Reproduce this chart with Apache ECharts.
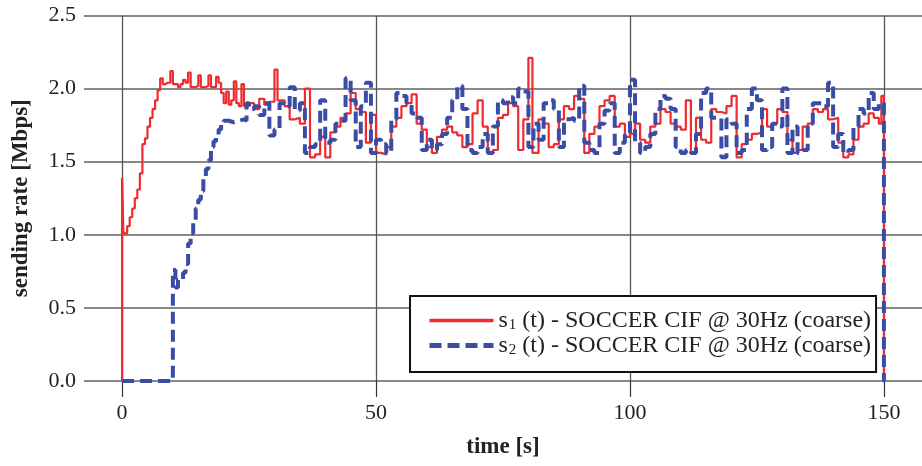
<!DOCTYPE html>
<html>
<head>
<meta charset="utf-8">
<script src="https://cdn.jsdelivr.net/npm/echarts@6/dist/echarts.min.js"></script>
<style>html,body{margin:0;padding:0;background:#fff}#c{width:922px;height:466px}</style>
</head>
<body>
<div id="c"></div>
<script>
const xTicks = [0, 50, 100, 150];
const yTicks = [0, 0.5, 1.0, 1.5, 2.0, 2.5];

const s1Time = [0, 0, 0.25, 1, 1.5, 2, 2.5, 3, 3.5, 4, 4.5, 5, 5.5, 6, 6.5, 7, 7.5, 8, 8.5, 9, 9.5, 10, 11, 11.5, 12, 12.5, 13, 13.5, 14.5, 15, 15.5, 16.5, 17, 17.5, 18.5, 19, 19.5, 20, 20.5, 21, 21.5, 22, 22.5, 23, 23.5, 24,
  25, 26, 27, 28, 29, 30, 30.6, 31, 32, 33, 34, 35, 36, 37, 38, 39, 40, 41, 42, 43, 44, 45, 46, 47, 48, 49, 50,
  51, 52, 53, 54, 55, 56, 57, 58, 59, 60, 61, 62, 63, 64, 65, 66, 67, 68, 69, 70, 71, 72, 73, 74, 75,
  76, 77, 78, 79, 80, 80.8, 81, 82, 83, 84, 85, 86, 87, 88, 89, 90, 91, 92, 93, 94, 95, 96, 97, 98, 99, 100,
  101, 102, 103, 104, 105, 106, 107, 108, 109, 110, 111, 112, 113, 114, 115, 116, 117, 118, 119, 120, 121, 122, 123, 124, 125,
  126, 127, 128, 129, 130, 131, 132, 133, 134, 135, 136, 137, 138, 139, 140, 141, 142, 143, 144, 145, 146, 147, 148, 149, 149.5, 150, 150.2];
const s1Rate = [0, 1.39, 1.01, 1.06, 1.12, 1.18, 1.25, 1.31, 1.42, 1.62, 1.66, 1.74, 1.80, 1.86, 1.92, 1.99, 2.07, 2.03, 2.04, 2.04, 2.12, 2.03, 2.01, 2.03, 2.06, 2.04, 2.11, 2.01, 2.02, 2.09, 2.01, 2.02, 2.09, 2.01, 2.08, 2.04, 1.97, 1.90, 1.98, 1.89, 1.92, 2.05, 1.90, 1.88, 2.03, 1.88,
  1.90, 1.86, 1.93, 1.89, 1.91, 2.13, 1.92, 1.92, 1.88, 1.79, 1.80, 1.76, 2.00, 1.53, 1.55, 1.67, 1.53, 1.70, 1.74, 1.80, 1.83, 1.97, 1.86, 1.84, 1.63, 1.82, 1.56,
  1.55, 1.60, 1.74, 1.80, 1.88, 1.90, 1.96, 1.76, 1.72, 1.60, 1.56, 1.67, 1.72, 1.74, 1.70, 1.68, 1.60, 1.62, 1.83, 1.92, 1.74, 1.56, 1.58, 1.80, 1.82,
  1.90, 1.88, 1.58, 1.79, 2.21, 1.56, 1.56, 1.79, 1.76, 1.60, 1.62, 1.79, 1.88, 1.86, 1.95, 1.93, 1.56, 1.69, 1.74, 1.88, 1.92, 1.95, 1.74, 1.76, 1.67, 1.69,
  1.76, 1.65, 1.63, 1.74, 1.76, 1.86, 1.84, 1.76, 1.74, 1.72, 1.92, 1.56, 1.80, 1.65, 1.63, 1.86, 1.84, 1.83, 1.88, 1.95, 1.53, 1.62, 1.65, 1.69, 1.70,
  1.86, 1.74, 1.76, 1.86, 1.84, 1.65, 1.56, 1.58, 1.74, 1.76, 1.86, 1.84, 1.86, 1.79, 1.80, 1.63, 1.53, 1.55, 1.65, 1.74, 1.76, 1.83, 1.80, 1.76, 1.95, 0, 0];

const s2Time = [0, 10, 10.5, 11, 12, 12.5, 13, 13.5, 14, 14.5, 15, 15.5, 16, 16.5, 17, 17.5, 18, 18.5, 19, 19.5, 20, 21, 22, 23, 24, 24.5,
  25, 26, 27, 28, 29, 30, 31, 32, 33, 34, 35, 36, 37, 38, 39, 40, 41, 42, 43, 44, 45, 46, 47, 48, 49, 50,
  51, 52, 53, 54, 55, 56, 57, 58, 59, 60, 61, 62, 63, 64, 65, 66, 67, 68, 69, 70, 71, 72, 73, 74, 75,
  76, 77, 78, 79, 80, 81, 82, 83, 84, 85, 86, 87, 88, 89, 90, 91, 92, 93, 94, 95, 96, 97, 98, 99, 100,
  101, 102, 103, 104, 105, 106, 107, 108, 109, 110, 111, 112, 113, 114, 115, 116, 117, 118, 119, 120, 121, 122, 123, 124, 125,
  126, 127, 128, 129, 130, 131, 132, 133, 134, 135, 136, 137, 138, 139, 140, 141, 142, 143, 144, 145, 146, 147, 148, 149, 150, 150.2];
const s2Rate = [0, 0.76, 0.64, 0.69, 0.74, 0.80, 0.94, 1.01, 1.10, 1.18, 1.24, 1.30, 1.39, 1.45, 1.51, 1.60, 1.64, 1.68, 1.72, 1.76, 1.78, 1.77, 1.78, 1.79, 1.78, 1.90,
  1.86, 1.88, 1.82, 1.90, 1.68, 1.72, 1.90, 1.88, 2.01, 1.85, 1.90, 1.56, 1.60, 1.62, 1.92, 1.63, 1.65, 1.76, 1.78, 2.07, 1.92, 1.60, 1.88, 2.04, 1.56, 1.65,
  1.62, 1.56, 1.79, 1.97, 1.95, 1.90, 1.83, 1.80, 1.58, 1.65, 1.58, 1.62, 1.69, 1.80, 1.92, 2.02, 1.86, 1.58, 1.56, 1.60, 1.69, 1.56, 1.74, 1.92, 1.90,
  1.94, 1.90, 2.00, 1.98, 1.60, 1.76, 1.65, 1.90, 1.92, 1.86, 1.60, 1.79, 1.80, 1.78, 2.02, 1.63, 1.58, 1.56, 1.76, 1.85, 1.90, 1.56, 1.63, 1.69, 2.06,
  1.63, 1.56, 1.60, 1.69, 1.86, 1.95, 1.93, 1.86, 1.60, 1.56, 1.58, 1.56, 1.69, 1.97, 2.00, 1.80, 1.80, 1.53, 1.79, 1.76, 1.56, 1.58, 1.86, 2.00, 1.92,
  1.58, 1.60, 1.76, 1.74, 2.00, 1.56, 1.74, 1.56, 1.58, 1.76, 1.90, 1.90, 1.88, 2.04, 1.60, 1.69, 1.56, 1.58, 1.74, 1.86, 1.83, 1.97, 1.86, 1.90, 0, 0];

const s1Name = 's1';
const s2Name = 's2';
const legendText = {
  s1: '{a|s}{b|1}{a| (t) - SOCCER CIF @ 30Hz (coarse)}',
  s2: '{a|s}{b|2}{a| (t) - SOCCER CIF @ 30Hz (coarse)}'
};

const pairs = (t, v) => t.map((x, i) => [x, v[i]]);
const serif = '"Liberation Serif", "DejaVu Serif", serif';

const chart = echarts.init(document.getElementById('c'), null, {renderer: 'canvas'});
chart.setOption({
  animation: false,
  backgroundColor: '#fff',
  grid: {left: 84, right: 0, top: 15.5, bottom: 85, containLabel: false, outerBoundsMode: 'none'},
  xAxis: {
    type: 'value', min: -7.5, max: 157.5,
    name: 'time [s]', nameLocation: 'middle', nameGap: 55,
    nameTextStyle: {fontFamily: serif, fontWeight: 'bold', fontSize: 23, color: '#222'},
    axisLine: {show: false},
    axisTick: {show: true, customValues: xTicks, length: 16, inside: false, lineStyle: {color: '#333', width: 1.2}},
    axisLabel: {customValues: xTicks, fontFamily: serif, fontSize: 22, color: '#222', margin: 21},
    splitLine: {show: true, lineStyle: {color: '#555', width: 1.3}}
  },
  yAxis: {
    type: 'value', min: 0, max: 2.5, interval: 0.5,
    name: 'sending rate [Mbps]', nameLocation: 'middle', nameGap: 51, nameRotate: 90,
    nameTextStyle: {fontFamily: serif, fontWeight: 'bold', fontSize: 23, color: '#222'},
    axisLine: {show: false},
    axisTick: {show: false},
    axisLabel: {fontFamily: serif, fontSize: 22, color: '#222', margin: 8, formatter: v => v.toFixed(1)},
    splitLine: {show: true, lineStyle: {color: '#888', width: 1.8}}
  },
  legend: {
    show: true,
    orient: 'vertical', left: 410, top: 296,
    padding: [12, 5, 14, 17],
    itemWidth: 64, itemHeight: 14, itemGap: 0,
    backgroundColor: '#fff', borderColor: '#111', borderWidth: 2, borderRadius: 0,
    itemStyle: {opacity: 0},
    formatter: function (n) { return legendText[n]; },
    textStyle: {
      fontFamily: serif, fontSize: 24, color: '#222',
      rich: {
        a: {fontFamily: serif, fontSize: 24, color: '#222', lineHeight: 28},
        b: {fontFamily: serif, fontSize: 15, color: '#222', lineHeight: 28, padding: [10, 0, 0, 1]}
      }
    },
    data: [
      {name: s1Name, lineStyle: {width: 3.5}},
      {name: s2Name, lineStyle: {width: 5}}
    ]
  },
  series: [
    {
      name: s1Name, type: 'line', step: 'end', symbol: 'none', z: 3,
      data: pairs(s1Time, s1Rate),
      lineStyle: {color: '#ee2b2e', width: 2.2},
      itemStyle: {color: '#ee2b2e'}
    },
    {
      name: s2Name, type: 'line', step: 'end', symbol: 'none', z: 4,
      data: pairs(s2Time, s2Rate),
      lineStyle: {color: '#3b4ca5', width: 4, type: [12, 6]},
      itemStyle: {color: '#3b4ca5'}
    }
  ]
});
</script>
</body>
</html>
